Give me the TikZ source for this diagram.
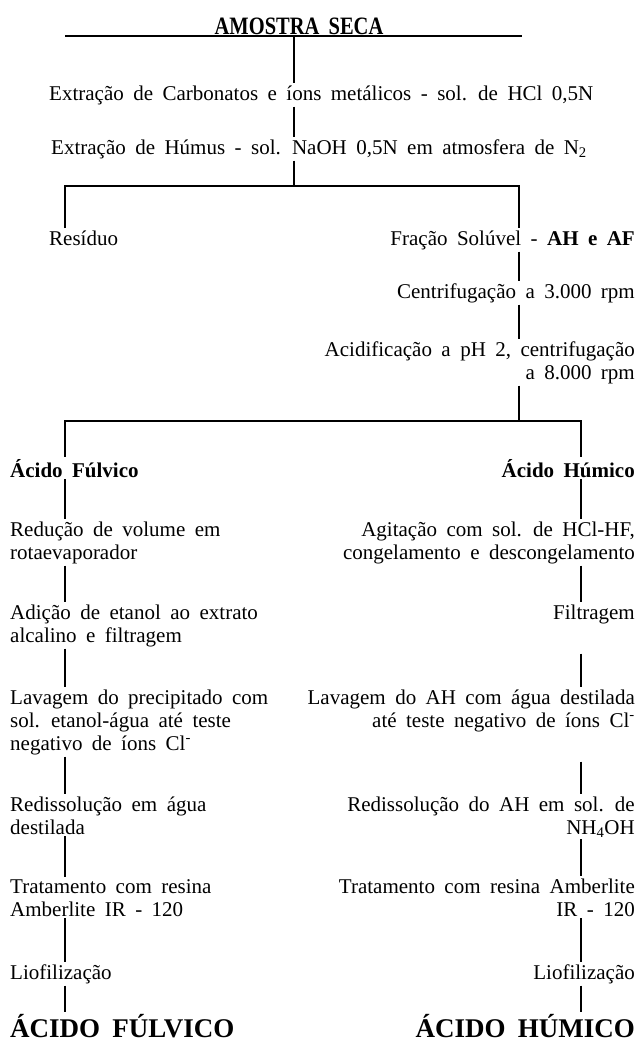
\documentclass[tikz,border=0pt]{standalone}
\usepackage{fontspec}
\setmainfont[WordSpace=1.8]{Liberation Serif}
\begin{document}
\begin{tikzpicture}[x=1pt,y=-1pt,
  txt/.style={inner xsep=0pt, inner ysep=2pt, font=\fontsize{21}{23}\selectfont},
  lft/.style={txt, anchor=base west, align=left},
  rgt/.style={txt, anchor=base east, align=right},
  hd/.style={font=\fontsize{21}{23}\selectfont\bfseries},
  fin/.style={inner xsep=0pt, inner ysep=2pt, font=\fontsize{27}{30}\selectfont\bfseries},
  conn/.style={line width=1.2pt}]
\useasboundingbox (0,0) rectangle (638,1042);
% x positions of the vertical connectors
\coordinate (xc) at (294,0);
\coordinate (xl) at (65,0);
\coordinate (xr1) at (519,0);
\coordinate (xr2) at (581,0);
% title and its rule
\node[txt, anchor=base, inner ysep=1pt, font=\fontsize{25}{27}\selectfont\bfseries] (top) at (299,34) {\scalebox{0.82}[1]{AMOSTRA SECA}};
\coordinate (ruleL) at (65,36);
\coordinate (ruleR) at (522,36);
\draw[conn] (ruleL) -- (ruleR);
\node[lft] (carb) at (49,100) {Extração de Carbonatos e íons metálicos - sol. de HCl 0,5N};
\node[lft] (humus) at (51,154) {Extração de Húmus - sol. NaOH 0,5N em atmosfera de N\textsubscript{2}};
\coordinate (s1) at (294,186);
\node[lft] (resid) at (49,245) {Resíduo};
\node[rgt] (frac) at (635,245) {Fração Solúvel - \textbf{AH e AF}};
\node[rgt] (centr) at (635,298) {Centrifugação a 3.000 rpm};
\node[rgt] (acid) at (635,379) {Acidificação a pH 2, centrifugação\\a 8.000 rpm};
\coordinate (s2) at (519,421);
\node[lft, hd] (af) at (10,477) {Ácido Fúlvico};
\node[rgt, hd] (ah) at (635,477) {Ácido Húmico};
\node[lft] (redL) at (10,559) {Redução de volume em\\rotaevaporador};
\node[rgt] (agit) at (635,559) {Agitação com sol. de HCl-HF,\\congelamento e descongelamento};
\node[lft] (adic) at (10,642) {Adição de etanol ao extrato\\alcalino e filtragem};
\node[rgt] (filt) at (635,619) {Filtragem};
\node[lft] (lavL) at (10,750) {Lavagem do precipitado com\\sol. etanol-água até teste\\negativo de íons Cl\textsuperscript{-}};
\node[rgt] (lavR) at (635,727) {Lavagem do AH com água destilada\\até teste negativo de íons Cl\textsuperscript{-}};
\node[lft] (redisL) at (10,834) {Redissolução em água\\destilada};
\node[rgt] (redisR) at (635,834) {Redissolução do AH em sol. de\\NH\textsubscript{4}OH};
\node[lft] (tratL) at (10,916) {Tratamento com resina\\Amberlite IR - 120};
\node[rgt] (tratR) at (635,916) {Tratamento com resina Amberlite\\IR - 120};
\node[lft] (lioL) at (10,979) {Liofilização};
\node[rgt] (lioR) at (635,979) {Liofilização};
\node[fin, anchor=base west] (finF) at (10,1037) {ÁCIDO FÚLVICO};
\node[fin, anchor=base east] (finH) at (635,1037) {ÁCIDO HÚMICO};
% connectors
\draw[conn] (top.south -| xc) -- (carb.north -| xc);
\draw[conn] (carb.south -| xc) -- (humus.north -| xc);
\draw[conn] (humus.south -| xc) -- (s1);
\draw[conn] (resid.north -| xl) |- (s1) -| (frac.north -| xr1);
\draw[conn] (frac.south -| xr1) -- (centr.north -| xr1);
\draw[conn] (centr.south -| xr1) -- (acid.north -| xr1);
\draw[conn] (acid.south -| xr1) -- (s2);
\draw[conn] (af.north -| xl) |- (s2) -| (ah.north -| xr2);
\draw[conn] (af.south -| xl) -- (redL.north -| xl);
\draw[conn] (redL.south -| xl) -- (adic.north -| xl);
\draw[conn] (adic.south -| xl) -- (lavL.north -| xl);
\draw[conn] (lavL.south -| xl) -- (redisL.north -| xl);
\draw[conn] (redisL.south -| xl) -- (tratL.north -| xl);
\draw[conn] (tratL.south -| xl) -- (lioL.north -| xl);
\draw[conn] (lioL.south -| xl) -- (finF.north -| xl);
\draw[conn] (ah.south -| xr2) -- (agit.north -| xr2);
\draw[conn] (agit.south -| xr2) -- (filt.north -| xr2);
\draw[conn, shorten <=28pt] (filt.south -| xr2) -- (lavR.north -| xr2);
\draw[conn, shorten <=28pt] (lavR.south -| xr2) -- (redisR.north -| xr2);
\draw[conn] (redisR.south -| xr2) -- (tratR.north -| xr2);
\draw[conn] (tratR.south -| xr2) -- (lioR.north -| xr2);
\draw[conn] (lioR.south -| xr2) -- (finH.north -| xr2);
\end{tikzpicture}
\end{document}
